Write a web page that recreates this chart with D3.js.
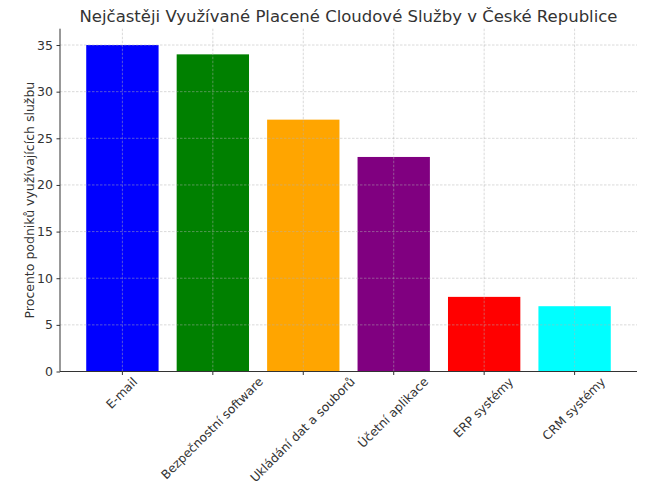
<!DOCTYPE html>
<html><head><meta charset="utf-8">
<script src="https://cdn.jsdelivr.net/npm/d3@7"></script>
<style>body{margin:0;background:#fff}svg text{font-family:"DejaVu Sans",sans-serif}</style>
</head><body><svg id="c" width="661" height="486"></svg>
<script>
const categories = ["E-mail","Bezpečnostní software","Ukládání dat a souborů","Účetní aplikace","ERP systémy","CRM systémy"];
const values = [35,34,27,23,8,7];
const colors = ["#0000ff","#008000","#ffa500","#800080","#ff0000","#00ffff"];
const yTicks = [0,5,10,15,20,25,30,35];
const title = "Nejčastěji Využívané Placené Cloudové Služby v České Republice";
const yLabel = "Procento podniků využívajících službu";

const svg = d3.select("#c");
const L = 60, R = 637, T = 28.7, B = 371.5;
const x = d3.scaleLinear().domain([-0.69, categories.length - 1 + 0.69]).range([L, R]);
const y = d3.scaleLinear().domain([0, 36.75]).range([B, T]);
const bw = x(0.8) - x(0);
const ink = "#333";

// bars
svg.append("g").selectAll("rect").data(values).join("rect")
  .attr("x", (d,i) => x(i) - bw/2).attr("width", bw)
  .attr("y", d => y(d)).attr("height", d => y(0) - y(d))
  .attr("fill", (d,i) => colors[i]);

// grid (over bars)
const grid = svg.append("g").attr("stroke", "#b0b0b0").attr("stroke-opacity", 0.6)
  .attr("stroke-width", 0.8).attr("stroke-dasharray", "2.5,1.5");
grid.selectAll("line.h").data(yTicks).join("line").attr("class","h")
  .attr("x1", L).attr("x2", R).attr("y1", d => y(d)).attr("y2", d => y(d));
grid.selectAll("line.v").data(categories).join("line").attr("class","v")
  .attr("x1", (d,i) => x(i)).attr("x2", (d,i) => x(i)).attr("y1", T).attr("y2", B);

// y axis
const yAxis = d3.axisLeft(y).tickValues(yTicks).tickSize(3.5).tickPadding(3.5);
const ga = svg.append("g").attr("transform", `translate(${L},0)`).call(yAxis);
ga.select(".domain").remove();
ga.selectAll("line").attr("stroke", ink);
ga.selectAll("text").attr("fill", ink).attr("font-size", 12.5);
svg.append("line").attr("x1", L).attr("x2", L).attr("y1", T).attr("y2", B).attr("stroke", ink).attr("stroke-width", 1);

// x axis
svg.append("line").attr("x1", L).attr("x2", R).attr("y1", B).attr("y2", B).attr("stroke", ink).attr("stroke-width", 1);
svg.append("g").selectAll("line").data(categories).join("line")
  .attr("x1", (d,i) => x(i)).attr("x2", (d,i) => x(i)).attr("y1", B).attr("y2", B + 3.5).attr("stroke", ink);

const fs = 12.2, asc = fs*0.76, desc = fs*0.24, c = Math.SQRT1_2;
svg.append("g").selectAll("text").data(categories).join("text")
  .attr("font-size", fs).attr("fill", ink).attr("text-anchor", "end")
  .text(d => d)
  .each(function(d,i){
    const len = this.getComputedTextLength();
    const ax = x(i) + (len + asc - desc) * c / 2;
    const ay = B + 4.5 + asc * c;
    d3.select(this).attr("transform", `translate(${ax},${ay}) rotate(-45)`);
  });

// y label
svg.append("text").attr("transform", `translate(34,${(T+B)/2}) rotate(-90)`)
  .attr("text-anchor", "middle").attr("font-size", 12.5).attr("fill", ink).text(yLabel);

// title
svg.append("text").attr("x", (L+R)/2).attr("y", 22).attr("text-anchor", "middle")
  .attr("font-size", 16.5).attr("fill", ink).text(title);
</script></body></html>
